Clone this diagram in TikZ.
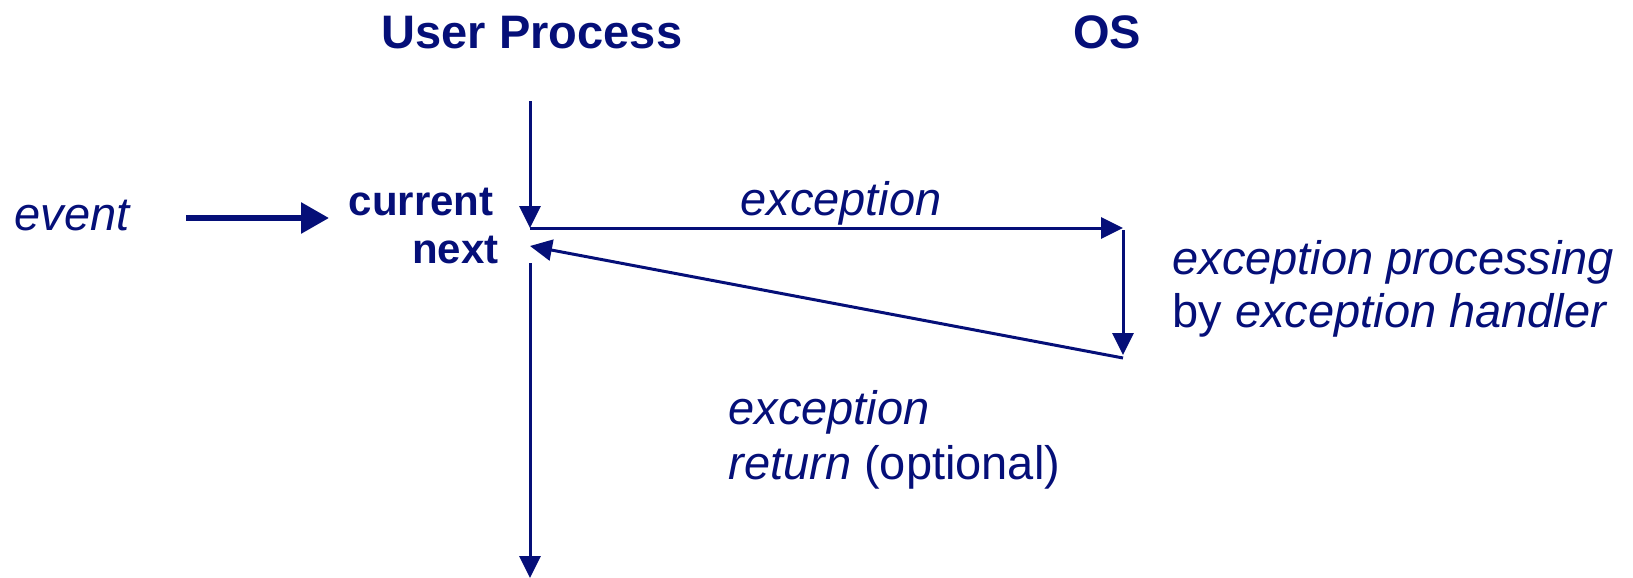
\documentclass[tikz,border=0pt]{standalone}
\usepackage{fontspec}
\setmainfont{Liberation Sans}
\usepackage{tikz}
\usetikzlibrary{arrows.meta}
\definecolor{navy}{RGB}{5,15,120}

\tikzset{
  lbl/.style={inner sep=0pt, text=navy, font=\fontsize{23.5}{27}\selectfont},
  hdr/.style={lbl, font=\fontsize{23.5}{27}\selectfont\bfseries},
  pc/.style={lbl, font=\fontsize{21}{24}\selectfont\bfseries},
  flow/.style={draw=navy, line width=1.5pt, -{Triangle[length=11pt,width=10.5pt]}},
  plain/.style={draw=navy, line width=1.5pt}
}

\begin{document}
\begin{tikzpicture}[x=0.5pt, y=-0.5pt]
            \useasboundingbox (0,0) rectangle (1633,578);

            % Headings
            \node[hdr, anchor=base] (user) at (532,48) {User Process};
            \node[hdr, anchor=base] (os) at (1107,48) {OS};

            % Labels
            \node[lbl, anchor=base west] (event) at (14,230) {\itshape event};
            \node[pc, anchor=base east] (current) at (494,215) {current};
            \node[pc, anchor=base east] (next) at (499,263) {next};
            \node[lbl, anchor=base west] (exc) at (740,215) {\itshape exception};
            \node[lbl, anchor=base west] (proc1) at (1172,274) {\itshape exception processing};
            \node[lbl, anchor=base west] (proc2) at (1172,327) {by \textit{exception handler}};
            \node[lbl, anchor=base west] (ret1) at (728,424) {\itshape exception};
            \node[lbl, anchor=base west] (ret2) at (728,479) {\textit{return} (optional)};

            % Points on the flow
            \coordinate (top) at (530,101);
            \coordinate (cur) at (530,228);
            \coordinate (osin) at (1123,228);
            \coordinate (osstart) at (1123,230);
            \coordinate (osend) at (1123,355);
            \coordinate (osout) at (1123,358);
            \coordinate (nxt) at (530,246);
            \coordinate (low) at (530,263);
            \coordinate (bottom) at (530,578);
            \coordinate (evfrom) at (186,218);
            \coordinate (evto) at (329,218);

            % Arrows
            \draw[draw=navy, line width=3pt, -{Triangle[length=14pt,width=15pt]}] (evfrom) -- (evto);
            \draw[flow] (top) -- (cur);
            \draw[flow] (cur) -- (osin);
            \draw[flow] (osstart) -- (osend);
            \draw[flow] (osout) -- (nxt);
            \draw[flow] (low) -- (bottom);
        \end{tikzpicture}
\end{document}
